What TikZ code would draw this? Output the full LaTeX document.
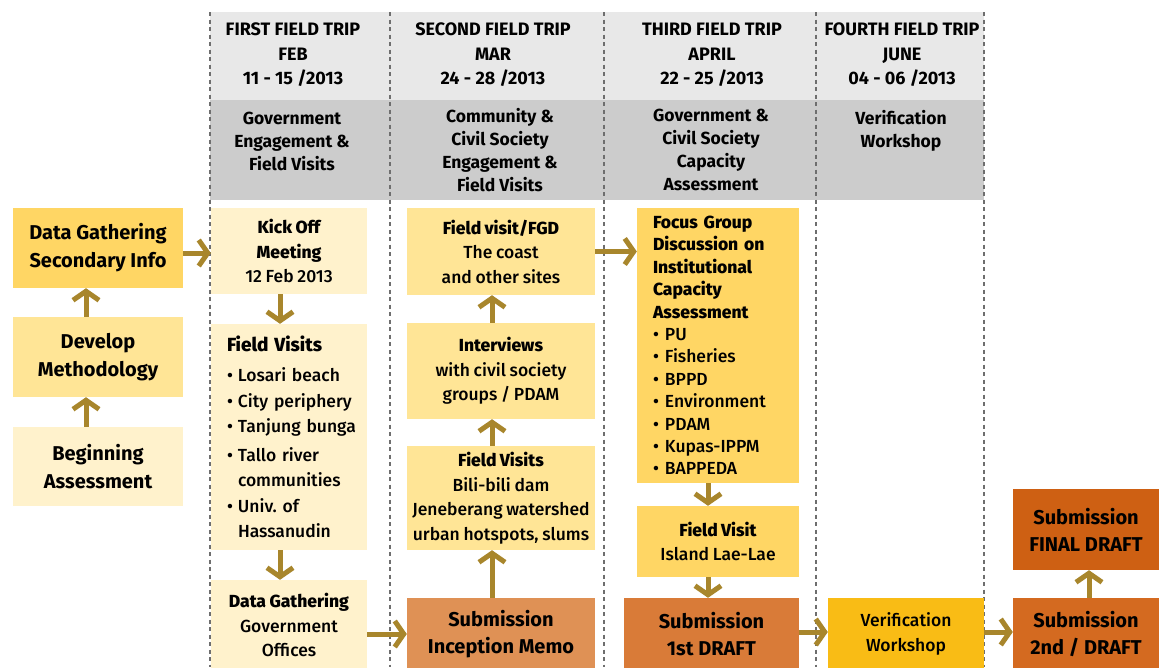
\documentclass[tikz,border=0pt]{standalone}
\usepackage{fontspec}
\setmainfont{Fira Sans}
\newfontfamily\medf{Fira Sans Medium}[WordSpace=0.85]
\usetikzlibrary{arrows.meta}
\definecolor{cLight}{HTML}{FFF2CC}
\definecolor{cMed}{HTML}{FFE596}
\definecolor{cGold}{HTML}{FFD664}
\definecolor{cInc}{HTML}{DF9155}
\definecolor{cDa}{HTML}{D97B38}
\definecolor{cDb}{HTML}{D46A20}
\definecolor{cFin}{HTML}{CE6013}
\definecolor{cVer}{HTML}{F9BC15}
\definecolor{cArr}{HTML}{A8862C}
\definecolor{hdrA}{HTML}{E8E8E8}
\definecolor{hdrB}{HTML}{CCCCCC}
\definecolor{dashc}{HTML}{6E6E6E}
\newcommand\bul{\makebox[11pt][l]{•}}
\newcommand\bulf{\makebox[12pt][l]{•}}
\begin{document}
\begin{tikzpicture}[x=1pt,y=-1pt,
  box/.style={inner sep=0pt, align=center, text=black},
  hdr/.style={inner sep=0pt, align=center, text=black, font=\fontsize{18}{24.5}\selectfont\bfseries},
  sub/.style={inner sep=0pt, align=center, text=black, font=\fontsize{17.5}{23}\selectfont\bfseries},
  big/.style={font=\fontsize{20}{28}\selectfont\bfseries},
  mid/.style={font=\fontsize{17.5}{24.5}\selectfont\medf},
  arr/.style={draw=cArr, line width=5pt, -{Straight Barb[length=9pt,width=26pt]}},
  sepline/.style={draw=dashc, line width=1.8pt, dash pattern=on 4pt off 3.5pt}]
\clip (0,0) rectangle (1159,667);
\fill[white] (0,0) rectangle (1159,667);
% header bands
\fill[hdrA] (210,12) rectangle (984,100);
\fill[hdrB] (210,100) rectangle (984,200);
% column separators
\foreach \xx in {210,390,604,816,984} \draw[sepline] (\xx,12) -- (\xx,667);
% headers
\node[hdr] (h1) at (293,55) {FIRST FIELD TRIP\\FEB\\11 - 15 /2013};
\node[hdr] (h2) at (493,55) {SECOND FIELD TRIP\\MAR\\24 - 28 /2013};
\node[hdr] (h3) at (712,55) {THIRD FIELD TRIP\\APRIL\\22 - 25 /2013};
\node[hdr] (h4) at (902,55) {FOURTH FIELD TRIP\\JUNE\\04 - 06 /2013};
\node[sub] (s1) at (292,141) {Government\\Engagement \&\\Field Visits};
\node[sub] (s2) at (500,150) {Community \&\\Civil Society\\Engagement \&\\Field Visits};
\node[sub] (s3) at (711,150) {Government \&\\Civil Society\\Capacity\\Assessment};
\node[sub] (s4) at (901,130.5) {Verification\\Workshop};
% left column
\node[box, big, fill=cGold, minimum width=170pt, minimum height=80pt] (DGS) at (98,248) {Data Gathering\\Secondary Info};
\node[box, big, fill=cMed, minimum width=170pt, minimum height=80pt] (DM) at (98,357) {Develop\\Methodology};
\node[box, big, fill=cLight, minimum width=170pt, minimum height=79pt] (BA) at (98,466.5) {Beginning\\Assessment};
% first field trip
\node[box, mid, fill=cLight, minimum width=156pt, minimum height=86pt] (KO) at (289,251) {{\bfseries Kick Off}\\{\bfseries Meeting}\\12 Feb 2013};
\node[box, fill=cLight, minimum width=156pt, minimum height=226pt, text width=124pt, align=left, font=\fontsize{17.5}{25.5}\selectfont\medf] (FVa) at (289,437)
  {\mbox{\bfseries\fontsize{19}{25.5}\selectfont Field Visits}\\[4.5pt]
   \mbox{\bul Losari beach}\\ \mbox{\bul City periphery}\\ \mbox{\bul Tanjung bunga}\\[3pt]
   \mbox{\bul Tallo river}\\ \mbox{\hspace*{11pt}communities}\\ \mbox{\bul Univ.\ of}\\ \mbox{\hspace*{11pt}Hassanudin}};
\node[box, mid, fill=cLight, minimum width=156pt, minimum height=90pt] (DGG) at (289,625) {{\bfseries Data Gathering}\\Government\\Offices};
% second field trip
\node[box, mid, fill=cMed, minimum width=188pt, minimum height=87pt] (FGD) at (501,251.5) {{\bfseries Field visit/FGD}\\The coast\\and other sites};
\node[box, mid, fill=cMed, minimum width=188pt, minimum height=96pt] (INT) at (501,371) {{\bfseries Interviews}\\with civil society\\groups / PDAM};
\node[box, mid, fill=cMed, minimum width=188pt, minimum height=104pt] (FVb) at (501,498) {{\bfseries Field Visits}\\Bili-bili dam\\Jeneberang watershed\\urban hotspots, slums};
\node[box, fill=cInc, minimum width=188pt, minimum height=72pt, font=\fontsize{20}{27}\selectfont\bfseries] (INC) at (501,634) {Submission\\Inception Memo};
% third field trip
\node[box, fill=cGold, minimum width=162pt, minimum height=275pt, text width=130pt, align=left, font=\fontsize{17.5}{22.4}\selectfont\medf] (FOC) at (718,345.5)
  {{\bfseries \mbox{Focus Group}\\\mbox{Discussion on}\\Institutional\\Capacity\\Assessment}\\
   \bulf PU\\ \bulf Fisheries\\ \bulf BPPD\\ \bulf Environment\\ \bulf PDAM\\ \bulf Kupas-IPPM\\ \bulf BAPPEDA};
\node[box, mid, fill=cGold, minimum width=162pt, minimum height=71pt] (FVc) at (718,541.5) {{\bfseries Field Visit}\\Island Lae-Lae};
\node[box, fill=cDa, minimum width=175pt, minimum height=72pt, font=\fontsize{20}{27}\selectfont\bfseries] (Da) at (711.5,634) {Submission\\1st DRAFT};
% fourth
\node[box, mid, fill=cVer, minimum width=156pt, minimum height=72pt] (VW) at (906,634) {Verification\\Workshop};
\node[box, fill=cDb, minimum width=146pt, minimum height=72pt, font=\fontsize{20}{27}\selectfont\bfseries] (Db) at (1086,634) {Submission\\2nd / DRAFT};
\node[box, fill=cFin, minimum width=146pt, minimum height=81pt, font=\fontsize{20}{27}\selectfont\bfseries] (FD) at (1086,529.5) {Submission\\FINAL DRAFT};
% arrows
\draw[arr] ([xshift=-12pt]BA.north) -- ([xshift=-12pt]DM.south);
\draw[arr] ([xshift=-12pt]DM.north) -- ([xshift=-12pt]DGS.south);
\draw[arr] ([yshift=-5pt]DGS.east) -- ([yshift=-5pt]DGS.east -| KO.west);
\draw[arr] ([xshift=-9pt]KO.south) -- ([xshift=-9pt]FVa.north);
\draw[arr] ([xshift=-9pt]FVa.south) -- ([xshift=-9pt]DGG.north);
\draw[arr] (DGG.east |- INC.west) -- (INC.west);
\draw[arr] ([xshift=-9pt]INC.north) -- ([xshift=-9pt]FVb.south);
\draw[arr] ([xshift=-9pt]FVb.north) -- ([xshift=-9pt]INT.south);
\draw[arr] ([xshift=-9pt]INT.north) -- ([xshift=-9pt]FGD.south);
\draw[arr] (FGD.east) -- (FGD.east -| FOC.west);
\draw[arr] ([xshift=-10pt]FOC.south) -- ([xshift=-10pt]FVc.north);
\draw[arr] ([xshift=-10pt]FVc.south) -- ([xshift=-10pt]FVc.south |- Da.north);
\draw[arr] ([yshift=2pt]Da.east) -- ([yshift=2pt]VW.west);
\draw[arr] ([yshift=2pt]VW.east) -- ([yshift=2pt]Db.west);
\draw[arr] ([xshift=3pt]Db.north) -- ([xshift=3pt]FD.south);
\end{tikzpicture}
\end{document}
